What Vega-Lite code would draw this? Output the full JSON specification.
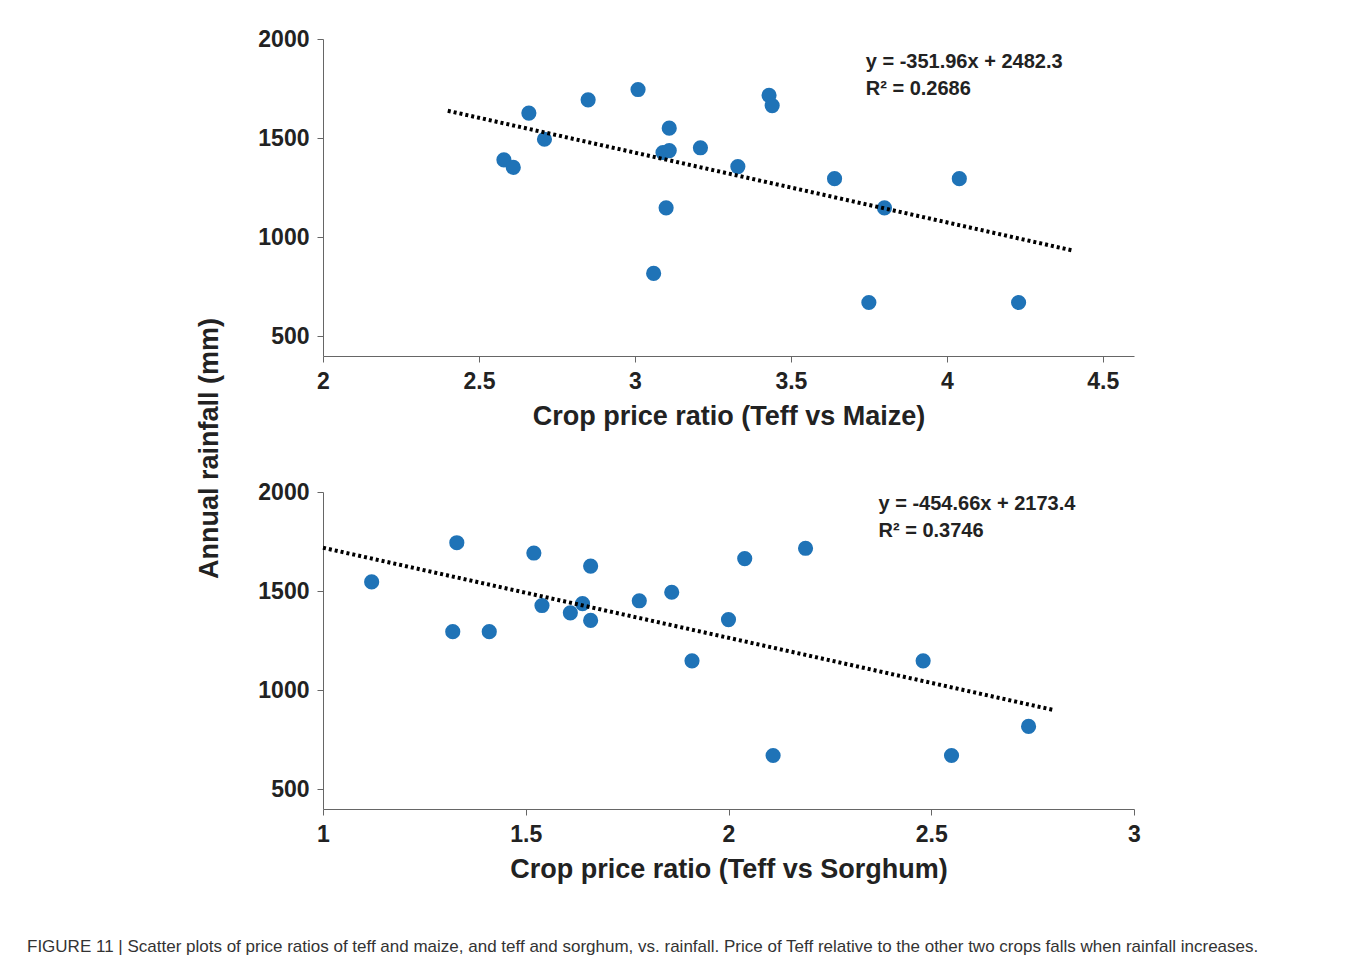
{
  "$schema": "https://vega.github.io/schema/vega-lite/v6.json",
  "background": "white",
  "padding": {"left": 27, "top": 28, "right": 20, "bottom": 10},
  "bounds": "flush",
  "spacing": 136,
  "config": {
    "font": "Liberation Sans",
    "view": {"stroke": null},
    "axis": {"grid": false, "labelFontSize": 23, "labelFontWeight": "bold", "labelColor": "#222", "titleFontSize": 27, "titleFontWeight": "bold", "titleColor": "#222", "domainColor": "#666", "tickColor": "#666", "tickSize": 6, "labelPadding": 8},
    "axisX": {"labelFlush": false}
  },
  "title": {"text": "FIGURE 11 | Scatter plots of price ratios of teff and maize, and teff and sorghum, vs. rainfall. Price of Teff relative to the other two crops falls when rainfall increases.", "orient": "bottom", "anchor": "start", "fontSize": 17, "fontWeight": "normal", "color": "#333", "offset": 57, "dx": -168},
  "vconcat": [
    {
      "width": 811, "height": 317,
      "layer": [
        {
          "data": {"values": [
            {"ratio": 2.58, "rain": 1390}, {"ratio": 2.61, "rain": 1352}, {"ratio": 2.66, "rain": 1626},
            {"ratio": 2.71, "rain": 1494}, {"ratio": 2.85, "rain": 1693}, {"ratio": 3.01, "rain": 1745},
            {"ratio": 3.09, "rain": 1427}, {"ratio": 3.11, "rain": 1437}, {"ratio": 3.11, "rain": 1550},
            {"ratio": 3.10, "rain": 1148}, {"ratio": 3.06, "rain": 817}, {"ratio": 3.21, "rain": 1451},
            {"ratio": 3.33, "rain": 1356}, {"ratio": 3.43, "rain": 1716}, {"ratio": 3.44, "rain": 1664},
            {"ratio": 3.64, "rain": 1295}, {"ratio": 3.80, "rain": 1148}, {"ratio": 3.75, "rain": 670},
            {"ratio": 4.04, "rain": 1295}, {"ratio": 4.23, "rain": 670}
          ]},
          "mark": {"type": "circle", "size": 230, "color": "#1f73b7", "opacity": 1},
          "encoding": {
            "x": {"field": "ratio", "type": "quantitative", "scale": {"domain": [2, 4.5]}, "axis": {"values": [2, 2.5, 3, 3.5, 4, 4.5], "format": "~g", "title": "Crop price ratio (Teff vs Maize)", "titlePadding": 10}},
            "y": {"field": "rain", "type": "quantitative", "scale": {"domain": [500, 2000]}, "axis": {"values": [500, 1000, 1500, 2000], "format": "d", "title": "Annual rainfall (mm)", "titleY": 409, "titleX": -100}}
          }
        },
        {
          "data": {"values": [{"ratio": 2.4, "rain": 1637.6}, {"ratio": 4.4, "rain": 933.7}]},
          "mark": {"type": "line", "color": "black", "strokeWidth": 4, "strokeDash": [3, 3]},
          "encoding": {"x": {"field": "ratio", "type": "quantitative"}, "y": {"field": "rain", "type": "quantitative"}}
        },
        {
          "data": {"values": [{"ratio": 3.74, "rain": 1886, "label": "y = -351.96x + 2482.3"}, {"ratio": 3.74, "rain": 1749, "label": "R² = 0.2686"}]},
          "mark": {"type": "text", "align": "left", "fontSize": 20, "fontWeight": "bold", "color": "#222"},
          "encoding": {"x": {"field": "ratio", "type": "quantitative"}, "y": {"field": "rain", "type": "quantitative"}, "text": {"field": "label"}}
        }
      ]
    },
    {
      "width": 811, "height": 317,
      "layer": [
        {
          "data": {"values": [
            {"ratio": 1.12, "rain": 1546}, {"ratio": 1.33, "rain": 1744}, {"ratio": 1.32, "rain": 1295},
            {"ratio": 1.41, "rain": 1295}, {"ratio": 1.52, "rain": 1692}, {"ratio": 1.54, "rain": 1427},
            {"ratio": 1.61, "rain": 1390}, {"ratio": 1.64, "rain": 1437}, {"ratio": 1.66, "rain": 1352},
            {"ratio": 1.66, "rain": 1626}, {"ratio": 1.78, "rain": 1451}, {"ratio": 1.86, "rain": 1494},
            {"ratio": 2.00, "rain": 1356}, {"ratio": 2.04, "rain": 1664}, {"ratio": 1.91, "rain": 1148},
            {"ratio": 2.19, "rain": 1716}, {"ratio": 2.11, "rain": 670}, {"ratio": 2.48, "rain": 1148},
            {"ratio": 2.55, "rain": 670}, {"ratio": 2.74, "rain": 817}
          ]},
          "mark": {"type": "circle", "size": 230, "color": "#1f73b7", "opacity": 1},
          "encoding": {
            "x": {"field": "ratio", "type": "quantitative", "scale": {"domain": [1, 3]}, "axis": {"values": [1, 1.5, 2, 2.5, 3], "format": "~g", "title": "Crop price ratio (Teff vs Sorghum)", "titlePadding": 10}},
            "y": {"field": "rain", "type": "quantitative", "scale": {"domain": [500, 2000]}, "axis": {"values": [500, 1000, 1500, 2000], "format": "d", "title": null}}
          }
        },
        {
          "data": {"values": [{"ratio": 1.0, "rain": 1718.7}, {"ratio": 2.8, "rain": 900.4}]},
          "mark": {"type": "line", "color": "black", "strokeWidth": 4, "strokeDash": [3, 3]},
          "encoding": {"x": {"field": "ratio", "type": "quantitative"}, "y": {"field": "rain", "type": "quantitative"}}
        },
        {
          "data": {"values": [{"ratio": 2.37, "rain": 1938, "label": "y = -454.66x + 2173.4"}, {"ratio": 2.37, "rain": 1801, "label": "R² = 0.3746"}]},
          "mark": {"type": "text", "align": "left", "fontSize": 20, "fontWeight": "bold", "color": "#222"},
          "encoding": {"x": {"field": "ratio", "type": "quantitative"}, "y": {"field": "rain", "type": "quantitative"}, "text": {"field": "label"}}
        }
      ]
    }
  ]
}
